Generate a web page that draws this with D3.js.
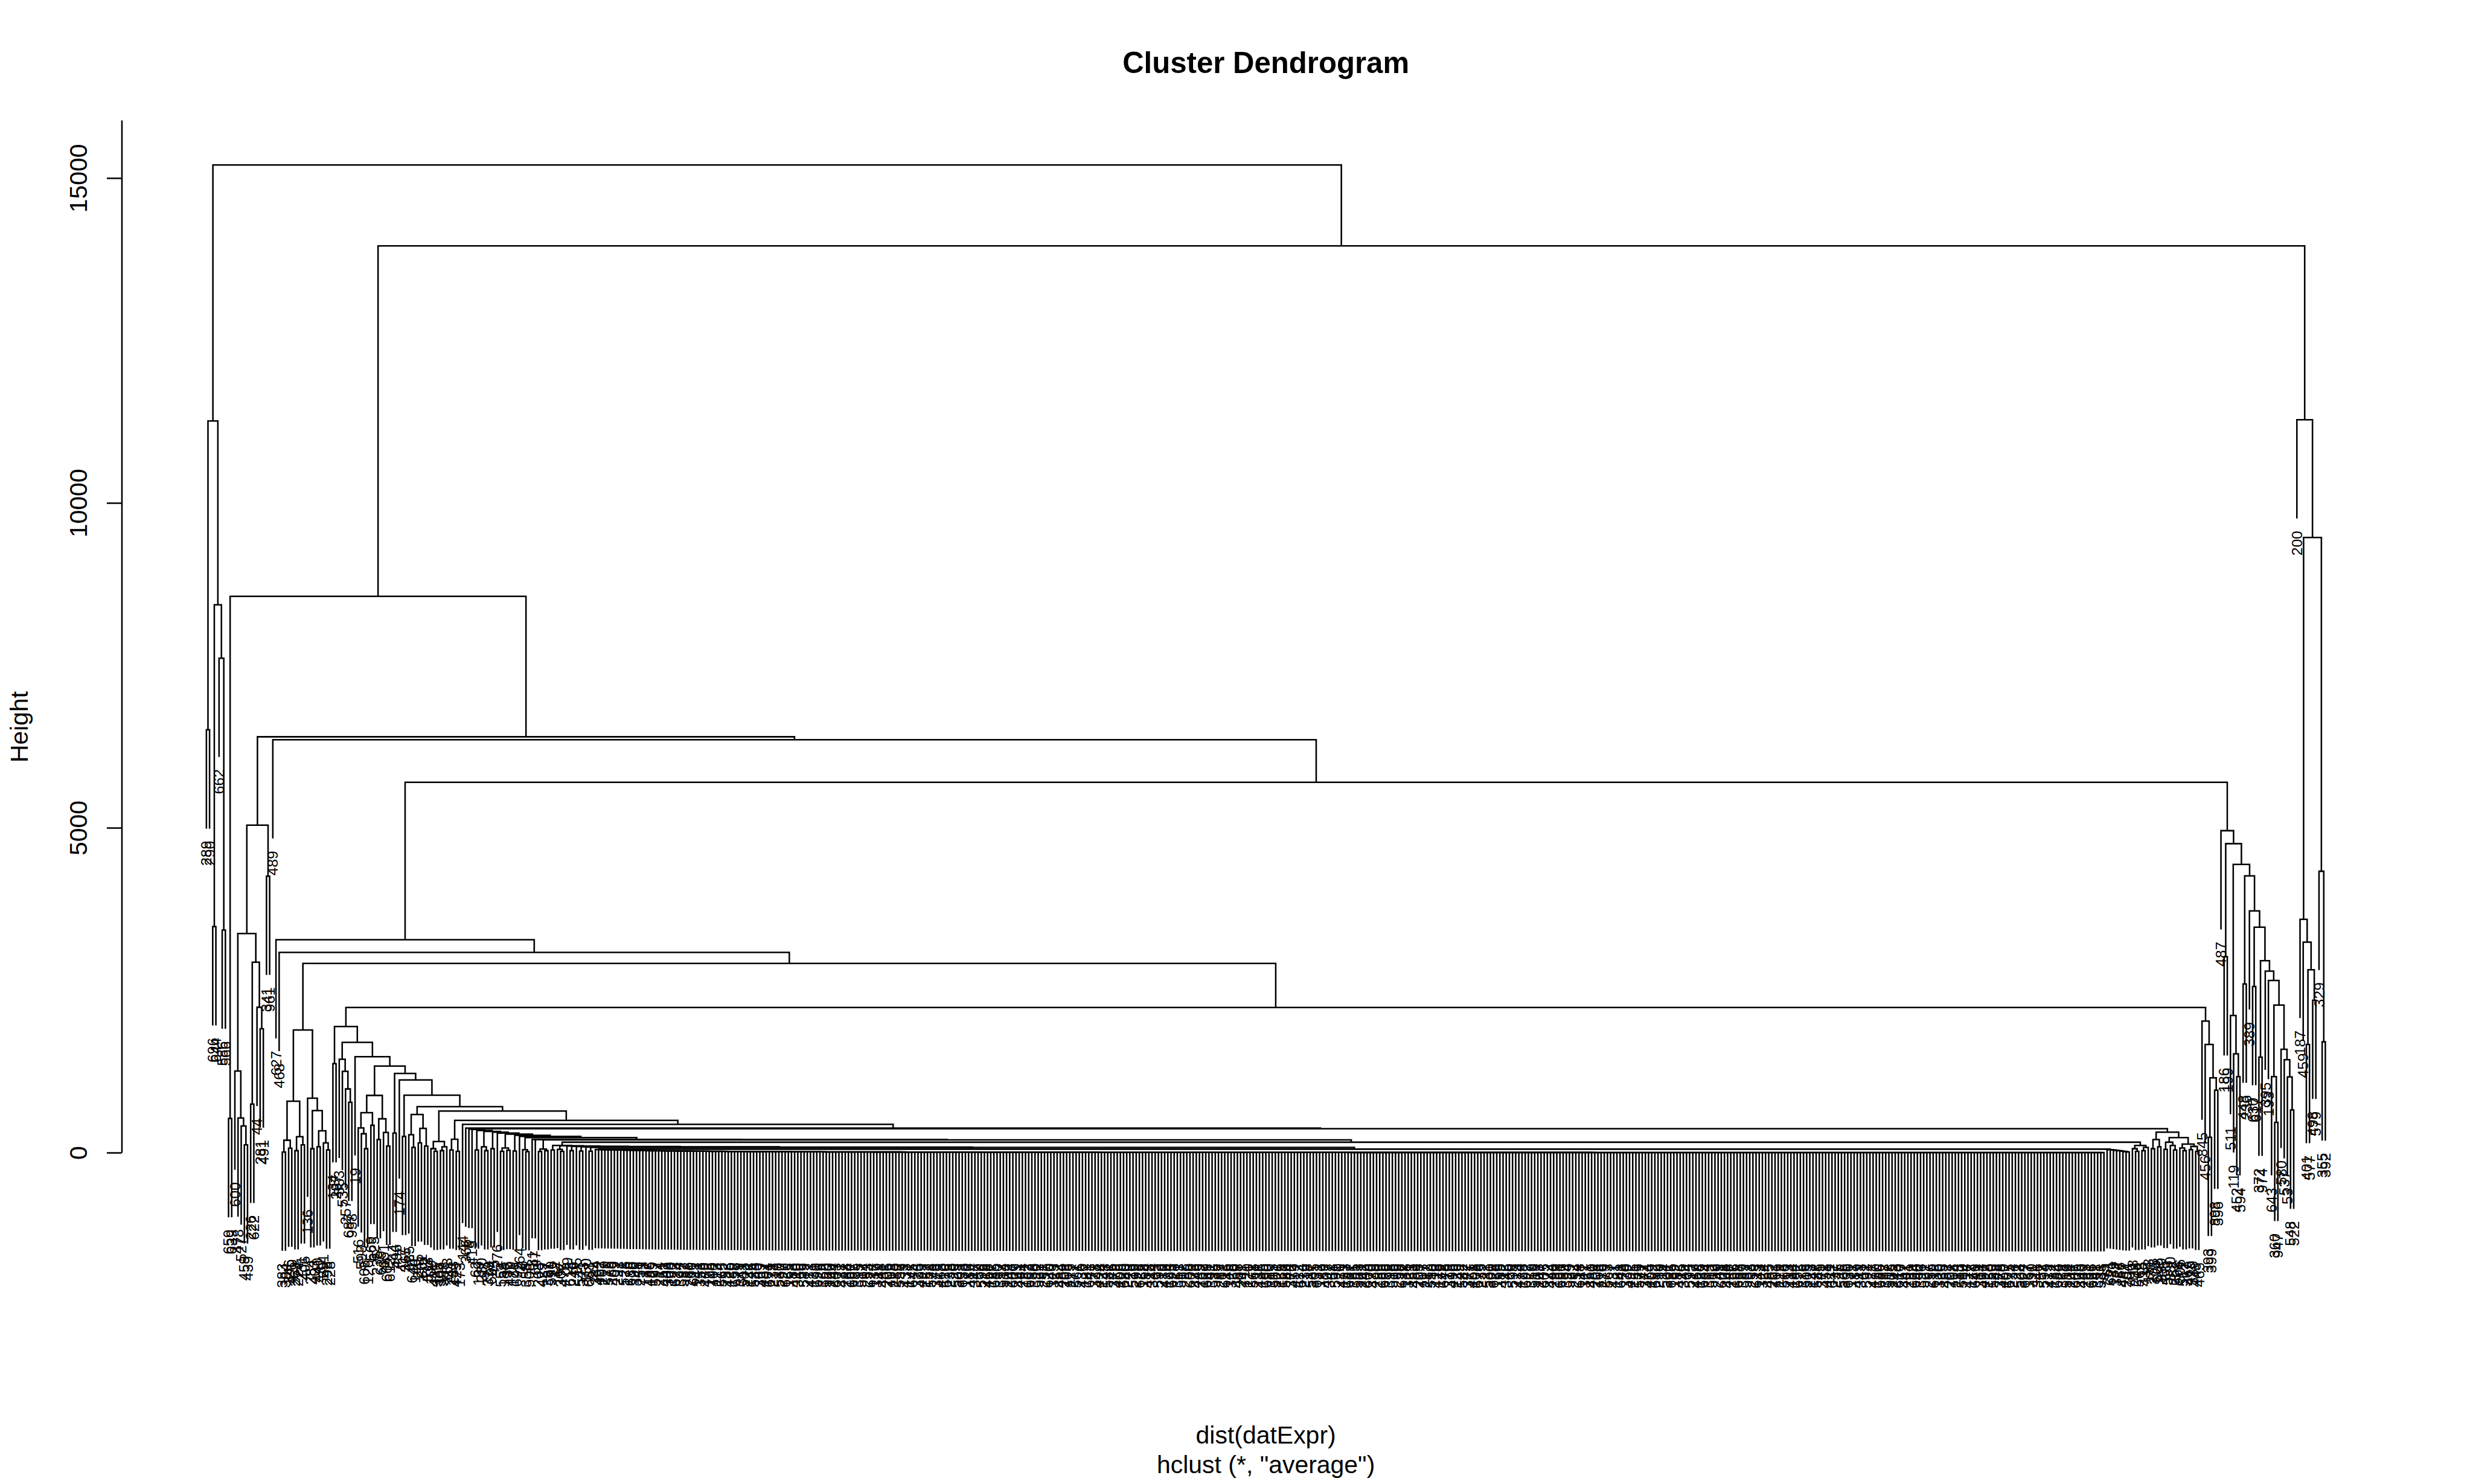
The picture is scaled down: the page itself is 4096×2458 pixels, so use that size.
<!DOCTYPE html>
<html><head><meta charset="utf-8">
<script src="https://cdn.jsdelivr.net/npm/d3@7"></script>
<style>html,body{margin:0;padding:0;background:#fff;}svg{display:block;}</style>
</head><body>
<svg id="chart" width="4096" height="2458"></svg>
<script>
// ---------------- DATA (heights in "Height" units; 0 = a leaf, labels given in leaf order) ----------------
const yTicks = [0, 5000, 10000, 15000];

const clusterL = [11260, [6507, 0, 0], [8432, [3478, 0, 0], [7610, 0, [3425, 0, 0]]]];
const pairA = [525, 0, 0];
const bLeft = [5040, [3371, [1255, 0, [533, 0, [410, 0, [120, 0, 0]]]], [2930, [746, 0, 0], [2237, 0, [1905, 0, 0]]]], [4255, 0, 0]];
const gLeft = [1887, [790, [190, [8, 0, 0], [68, 0, 0]], [245, [30, 0, 0], [120, 0, 0]]],
                     [837, 0, [647, [60, 0, 0], [335, [90, 0, 0], [150, 0, [40, 0, 0]]]]]];
const clusterX = [880, [615, [380, 0, [290, 0, [60, 0, 0]]], [420, 0, 0]], [520, [200, 0, 0], [310, 0, [100, 0, 0]]]];
const n1940Chain = [
  [1940, [1370, 0, 0]],
  [1697, [1437, 0, [1250, 0, [980, 0, [775, 0, 0]]]]],
  [1476, 0],
  [1332, clusterX],
  [1218, [300, 0, 0]],
  [1119, 0],
  [883, [250, 0, 0]],
  [708, [586, [274, 0, [80, 0, 0]], [373, [150, 0, 0], [100, 0, 0]]]],
  [640, [171, [60, 0, [20, 0, 0]], [90, [30, 0, 0], 0]]],
  [495, [205, [40, 0, 0], [20, 0, 0]]],
  [435, 0],
  [378, 0]
];
const combOuter = [
  [360, 0], [357, 0], [340, [40, 0, 0]], [326, [90, 0, [30, 0, 0]]], [315, [60, 0, 0]], [300, 0],
  [284, [70, [20, 0, 0], [35, 0, 0]]], [265, [25, 0, 0]], [250, 0], [230, [45, 0, [15, 0, 0]]],
  [202, 0], [200, 0], [195, [55, [18, 0, 0], [30, 0, 0]]]
];
const coreChain = [
  [110, [40, 0, 0]], [105, [50, 0, [20, 0, 0]]], [100, 0], [97, [30, 0, 0]],
  [93, 0], [90, [25, 0, 0]], [85, 0], [80, [22, 0, 0]]
];
const hugeCombHeights = [
  48,46,46,44,43,43,41,40,38,38,37,35,34,34,33,31,30,30,29,28,28,27,26,26,26,25,24,24,23,23,
  22,22,22,21,21,20,20,20,19,19,19,18,18,18,18,17,17,17,16,16,16,16,15,15,15,15,14,14,14,14,
  14,13,13,13,13,13,12,12,12,12,12,12,11,11,11,11,11,11,11,10,10,10,10,10,10,10,10,9,9,9,
  9,9,9,9,9,9,9,8,8,8,8,8,8,8,8,8,8,8,7,7,7,7,7,7,7,7,7,7,7,7,
  7,6,6,6,6,6,6,6,6,6,6,6,6,6,6,6,6,5,5,5,5,5,5,5,5,5,5,5,5,5,
  5,5,5,5,5,5,5,5,5,4,4,4,4,4,4,4,4,4,4,4,4,4,4,4,4,4,4,4,4,4,
  4,4,4,4,4,4,4,4,4,4,4,4,3,3,3,3,3,3,3,3,3,3,3,3,3,3,3,3,3,3,
  3,3,3,3,3,3,3,3,3,3,3,3,3,3,3,3,3,3,3,3,3,3,3,3,3,3,3,3,2,2,
  2,2,2,2,2,2,2,2,2,2,2,2,2,2,2,2,2,2,2,2,2,2,2,2,2,2,2,2,2,2,
  2,2,2,2,2,2,2,2,2,2,2,2,2,2,2,2,2,2,2,2,2,2,2,2,2,2,2,2,2,2,
  2,2,2,2,2,2,2,2,2,2,2,2,2,2,2,1,1,1,1,1,1,1,1,1,1,1,1,1,1,1,
  1,1,1,1,1,1,1,1,1,1,1,1,1,1,1,1,1,1,1,1,1,1,1,1,1,1,1,1,1,1,
  1,1,1,1,1,1,1,1,1,1,1,1,1,1,1,1,1,1,1,1,1,1,1,1,1,1,1,1,1,1,
  1,1,1,1,1,1,1,1,1,1,1,1,1,1,1,1,1,1,1,1,0,0,0,0,0,0,0,0,0,0,
  0,0,0,0,0,0,0,0,0,0,0,0,0,0,0,0,0,0,0,0,0,0,0,0,0,0,0,0,0,0,
  0,0,0,0,0,0,0,0,0,0,0,0,0,0,0,0,0,0,0,0,0,0,0,0,0,0,0
];
const tail2Heights = [45, 40, 34, 28, 22, 16, 10];
const combTail = [110, [60, 0, [20, 0, 0]], [80, [30, 0, 0], 0]];
const rightEnd = [315, [200, [60, 0, 0], [90, 0, 0]],
                       [230, [160, [50, 0, 0], [110, 0, [40, 0, 0]]], [130, [70, 0, [30, 0, 0]], [95, [45, 0, 0], [20, 0, 0]]]]];
const hRight = [2025, 0, [1665, 0, [1150, [235, 0, 0], [960, 0, 0]]]];
const r1 = [4955, 0, [4755, [3015, 0, 0], [4435, [2110, 0, [1520, 0, [1170, 0, 0]]],
           [4260, [2595, 0, 0], [3720, 0, [3470, [2557, 0, 0], [2953, [1469, 0, 0], [2793, 0, [2650, 0,
           [2270, [1170, 0, [465, 0, 0]], [1590, 0, [1430, 0, [1165, 0, [655, 0, 0]]]]]]]]]]]]]];
const c200 = [11280, 0, [9468, [3590, 0, [3240, 0, [2815, [1665, 0, 0], [2345, 0, 0]]]], [4330, 0, [1705, 0, 0]]]];
// joins of the spine: [height] for nodes root, rTop, A, B, C, D, E, F, G, H, n370, comb-core, core-tail
const spineHeights = { root: 15200, rTop: 13955, A: 8562, B: 6400, C: 6355, D: 5700, E: 3276, F: 3082, G: 2912, H: 2233, n370: 368, core: 160, inner: 53 };

const labelsLeft = [289,290,696,644,662,586,566,659,639,600,478,527,459,439,226,622,44,281,491,341,961,489,627,468,
  383,384,346,420,269,224,231,406,136,284,403,440,431,291,298,228,134,287,583,535,257,687,958,19,
  516,593,605,126,569,625,235,619,651,664,612,544,496,174,417,365,635,640,146,245,301,472,538,
  109,421,385,307,388,163,241,183,425,173,144,366];
const labelsComb = [
  8,415,62,139,230,97,318,604,45,276,552,188,33,470,121,699,264,16,358,508,81,647,203,429,57,381,590,12,
  167,302,475,29,618,246,95,541,373,150,683,21,334,462,107,219,575,66,409,292,1,528,175,636,90,348,251,713,
  37,486,129,597,214,61,443,308,160,673,24,397,532,88,260,611,142,353,49,479,195,700,113,274,565,32,426,180,
  658,79,311,503,222,146,584,40,369,457,104,671,238,17,530,297,629,165,83,410,340,56,589,212,473,131,690,26,
  362,520,100,244,603,71,437,288,154,667,35,395,517,94,253,624,137,319,48,481,206,709,118,280,557,9,433,177,
  645,74,325,499,227,152,578,43,376,463,110,676,233,20,525,303,633,170,86,414,347,59,596,218,468,127,685,30,
  357,514,102,248,607,69,441,294,157,663,38,390,522,91,257,620,140,323,52,484,209,705,115,277,561,6,430,182,
  641,77,328,494,224,148,581,46,379,466,106,680,240,23,519,299,626,168,84,418,344,63,593,216,476,124,693,28,
  361,517,98,255,600,73,446,285,162,669,41,392,535,87,262,613,145,326,50,488,201,711,120,271,568,11,436,185,
  650,80,315,501,226,153,586,44,372,459,112,674,236,18,527,305,631,172,89,407,342,58,591,220,471,133,687,31,
  365,523,101,242,609,70,439,290,155,665,36,398,515,96,258,622,138,321,53,483,205,707,117,282,559,10,428,179,
  648,76,313,496,229,149,582,42,377,461,108,678,235,22,531,300,628,166,85,412,345,60,598,213,474,128,692,27,
  359,519,103,247,605,72,444,296,158,661,39,394,529,92,254,618,141,327,51,480,208,703,116,279,563,7,431,181,
  643,78,330,492,225,151,579,47,374,464,109,682,239,19,524,301,635,169,82,416,349,64,595,217,469,126,689,34,
  363,512,99,249,601,68,448,287,156,668,37,389,537,93,259,615,143,324,54,485,202,701,119,273,566,13,434,184,
  652,75,316,505,223,147,588,45,371,458,111,672,237,25,526,306,630,171,87,419,343,61,592,221,477,130,686,32,
  367,518,105,243,610,67,442,291,159,664,40,396,521,97,256,619,136,320,55,482,207,708,114,283,560,14,427,178,
  646,81,314,497,228,150,585,48,378,460,107,675,234,21,528,304,627,167,90,411,346,57,594,219,472,132,684,29,
  368,516,104,241,606,65,440,293,161,666,42,391,533,95,261,621,139,322,56,487,204,706,118,278,562,15,432,183];
const labelsRight = [271,305,608,339,405,553,330,262,568,506,512,367,419,380,443,465,
  845,456,393,399,898,396,
  487,186,199,511,119,452,594,448,236,389,630,617,372,974,395,193,643,360,947,580,537,53,548,522,
  200,187,459,401,577,498,579,329,355,392];

// ---------------- BUILD TREE ----------------
const S = 0.819;
const FONT = "'Liberation Sans', Arial, Helvetica, sans-serif";
const LW = 3.1 * S;

function chain(items, inner) { let t = inner; for (let i = items.length - 1; i >= 0; i--) t = [items[i][0], items[i][1], t]; return t; }
function caterpillar(hs) { let t = 0; for (let i = hs.length - 1; i >= 0; i--) t = [hs[i], 0, t]; return t; }

const sh = spineHeights;
const coreA = chain(coreChain, [sh.inner, caterpillar(hugeCombHeights), caterpillar(tail2Heights)]);
const comb = chain(combOuter, [sh.core, coreA, combTail]);
const n1940 = chain(n1940Chain, [sh.n370, comb, rightEnd]);
const nH = [sh.H, n1940, hRight];
const nG = [sh.G, gLeft, nH];
const nF = [sh.F, 0, nG];
const nE = [sh.E, 0, nF];
const nD = [sh.D, nE, r1];
const nC = [sh.C, 0, nD];
const nB = [sh.B, bLeft, nC];
const nA = [sh.A, pairA, nB];
const nRTop = [sh.rTop, nA, c200];
const rootSpec = [sh.root, clusterL, nRTop];

const labels = labelsLeft.concat(labelsComb, labelsRight);
let leafCount = 0;
function build(spec) {
  if (spec === 0) { const k = leafCount++; return { leaf: true, k, label: labels[k] !== undefined ? String(labels[k]) : "" }; }
  return { h: spec[0], kids: [build(spec[1]), build(spec[2])] };
}
const tree = build(rootSpec);
const n = leafCount;

let maxH = -Infinity, minH = Infinity;
(function mm(nd) { if (nd.leaf) return; maxH = Math.max(maxH, nd.h); minH = Math.min(minH, nd.h); nd.kids.forEach(mm); })(tree);
const hang = 0.1 * (maxH - minH);

const x = d3.scaleLinear().domain([1 - 0.04 * (n - 1), n + 0.04 * (n - 1)]).range([246 * S, 4874 * S]);
const y = d3.scaleLinear().domain([0, 15890]).range([2331 * S, 243.1 * S]);

(function place(nd) {
  if (nd.leaf) { nd.x = x(nd.k + 1); return; }
  nd.kids.forEach(place);
  nd.x = (nd.kids[0].x + nd.kids[1].x) / 2;
})(tree);

const segs = [], leaves = [];
(function collect(nd) {
  if (nd.leaf) return;
  const yN = y(nd.h);
  const top = c => c.leaf ? y(nd.h - hang) : y(c.h);
  const [a, b] = nd.kids;
  segs.push(`M${a.x},${top(a)}V${yN}H${b.x}V${top(b)}`);
  nd.kids.forEach(c => { if (c.leaf) leaves.push({ x: c.x, yb: y(nd.h - hang), label: c.label }); else collect(c); });
})(tree);

// ---------------- DRAW ----------------
const svg = d3.select("#chart");
svg.append("rect").attr("width", 4096).attr("height", 2458).attr("fill", "#fff");

const gTree = svg.append("g");
gTree.selectAll("path").data(segs).join("path")
  .attr("d", d => d).attr("fill", "none").attr("stroke", "#000").attr("stroke-width", LW);

gTree.selectAll("text").data(leaves).join("text")
  .attr("transform", d => `translate(${d.x},${d.yb + 25 * S}) rotate(-90)`)
  .attr("text-anchor", "end").attr("dy", "0.35em")
  .attr("font-family", FONT).attr("font-size", 30 * S).attr("fill", "#000")
  .text(d => d.label);

const axis = d3.axisLeft(y).tickValues(yTicks).tickSize(30 * S).tickSizeOuter(0).tickFormat(d3.format("d"));
const ga = svg.append("g").attr("transform", `translate(${246 * S},0)`).call(axis);
ga.select(".domain").attr("stroke", "#000").attr("stroke-width", LW);
ga.selectAll(".tick line").attr("stroke", "#000").attr("stroke-width", LW);
ga.selectAll(".tick text")
  .attr("x", 0).attr("dy", null).attr("y", 0)
  .attr("transform", `translate(${-(246 - 176) * S},0) rotate(-90)`)
  .attr("text-anchor", "middle").attr("font-family", FONT).attr("font-size", 50 * S).attr("fill", "#000");

svg.append("text").attr("x", 2560 * S).attr("y", 148 * S).attr("text-anchor", "middle")
  .attr("font-family", FONT).attr("font-weight", "bold").attr("font-size", 60 * S).text("Cluster Dendrogram");
svg.append("text").attr("x", 2560 * S).attr("y", 2919 * S).attr("text-anchor", "middle")
  .attr("font-family", FONT).attr("font-size", 50 * S).text("dist(datExpr)");
svg.append("text").attr("x", 2560 * S).attr("y", 2979 * S).attr("text-anchor", "middle")
  .attr("font-family", FONT).attr("font-size", 50 * S).text('hclust (*, "average")');
svg.append("text").attr("transform", `translate(${56 * S},${1470 * S}) rotate(-90)`).attr("text-anchor", "middle")
  .attr("font-family", FONT).attr("font-size", 50 * S).text("Height");
</script>
</body></html>
